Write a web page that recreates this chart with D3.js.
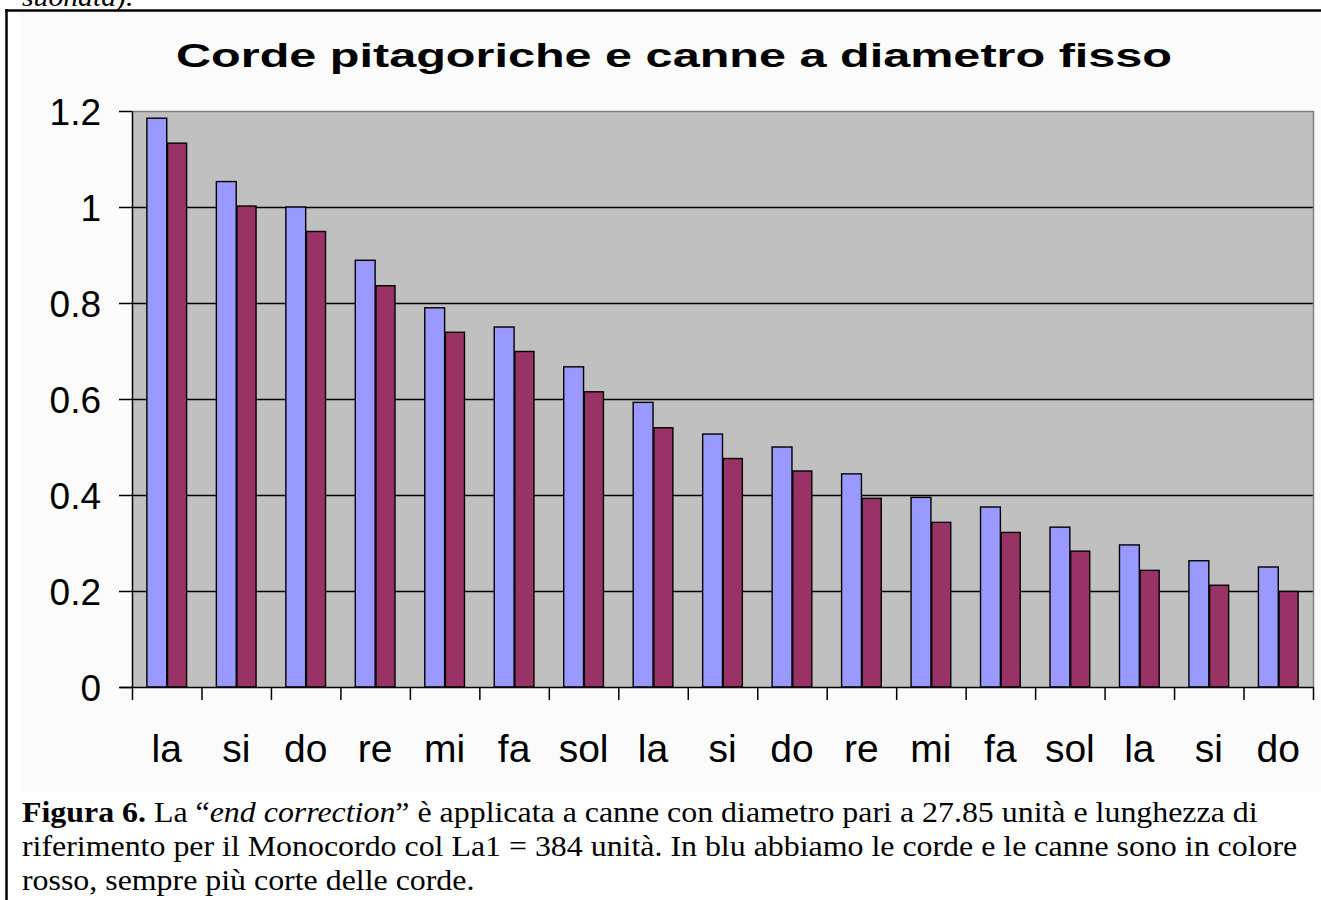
<!DOCTYPE html>
<html>
<head>
<meta charset="utf-8">
<script src="https://cdn.jsdelivr.net/npm/d3@7"></script>
<style>
  html, body { margin: 0; padding: 0; background: #ffffff; }
  svg { display: block; }
</style>
</head>
<body>
<svg id="chart" width="1321" height="900"></svg>
<script>
// ---- data ----
const notes = ["la","si","do","re","mi","fa","sol","la","si","do","re","mi","fa","sol","la","si","do"];
const corde = [1.185, 1.053, 1.000, 0.889, 0.790, 0.750, 0.667, 0.593, 0.527, 0.500, 0.444, 0.395, 0.375, 0.333, 0.296, 0.263, 0.250];
const canne = [1.133, 1.002, 0.949, 0.836, 0.739, 0.699, 0.615, 0.540, 0.476, 0.450, 0.393, 0.343, 0.322, 0.283, 0.243, 0.212, 0.199];
const seriesNames = ["corde", "canne"];
const yTicks = [0, 0.2, 0.4, 0.6, 0.8, 1.0, 1.2];
const yTickLabels = ["0", "0.2", "0.4", "0.6", "0.8", "1", "1.2"];
const titleText = "Corde pitagoriche e canne a diametro fisso";

// ---- layout ----
const svg = d3.select("#chart");
const L = 132, R = 1313, T = 111, B = 687;
const colors = { corde: "#9999FF", canne: "#993366" };

// frame & chart area
svg.append("rect").attr("x", 20).attr("y", 12).attr("width", 1301).attr("height", 781).attr("fill", "#fbfbfb");
svg.append("line").attr("x1", 5).attr("x2", 1321).attr("y1", 10.5).attr("y2", 10.5).attr("stroke", "#000").attr("stroke-width", 2.5);
svg.append("line").attr("x1", 6.5).attr("x2", 6.5).attr("y1", 9).attr("y2", 900).attr("stroke", "#000").attr("stroke-width", 2.5);

// cut-off previous paragraph line
svg.append("text").attr("x", 22).attr("y", 6)
  .attr("font-family", "'Liberation Serif', 'Times New Roman', serif").attr("font-style", "italic")
  .attr("font-size", 27).attr("fill", "#000")
  .attr("transform", "translate(22,0) scale(1.1,1) translate(-22,0)")
  .text("suonata).");

// scales
const x = d3.scaleBand().domain(d3.range(notes.length)).range([L, R]).paddingInner(0).paddingOuter(0);
const xs = d3.scaleBand().domain(seriesNames).range([0, x.bandwidth()]).paddingInner(0).paddingOuter(0.75);
const xLin = d3.scaleLinear().domain([0, notes.length]).range([L, R]);
const y = d3.scaleLinear().domain([0, 1.2]).range([B, T]);

// plot background
svg.append("rect").attr("x", L).attr("y", T).attr("width", R - L).attr("height", B - T).attr("fill", "#C0C0C0");

// gridlines
const grid = svg.append("g").attr("transform", `translate(${L},0)`)
  .call(d3.axisLeft(y).tickValues(yTicks.filter(v => v > 0 && v < 1.2)).tickSize(-(R - L)).tickFormat(""));
grid.select(".domain").remove();
grid.selectAll(".tick line").attr("stroke", "#000").attr("stroke-width", 1.3);

// plot border (top/right gray)
svg.append("path").attr("d", `M${L},${T + 0.5}H${R + 0.5}V${B}`).attr("fill", "none").attr("stroke", "#808080").attr("stroke-width", 1.5);

// bars
const data = notes.map((n, i) => ({ i, values: [{ k: "corde", v: corde[i] }, { k: "canne", v: canne[i] }] }));
const groups = svg.append("g").selectAll("g").data(data).join("g")
  .attr("transform", d => `translate(${x(d.i)},0)`);
groups.selectAll("rect").data(d => d.values).join("rect")
  .attr("x", d => xs(d.k) + (d.k === "canne" ? 0.8 : 0))
  .attr("width", d => xs.bandwidth() - (d.k === "canne" ? 0.8 : 0))
  .attr("y", d => y(d.v))
  .attr("height", d => y(0) - y(d.v))
  .attr("fill", d => colors[d.k])
  .attr("stroke", "#000").attr("stroke-width", 1.4);

// y axis
const yAxis = svg.append("g").attr("transform", `translate(${L},0)`)
  .call(d3.axisLeft(y).tickValues(yTicks).tickSize(13).tickSizeOuter(0).tickPadding(18)
    .tickFormat((d, i) => yTickLabels[i]));
yAxis.select(".domain").attr("stroke", "#000").attr("stroke-width", 1.5);
yAxis.selectAll(".tick line").attr("stroke", "#000").attr("stroke-width", 1.5);
yAxis.selectAll(".tick text").attr("font-family", "'Liberation Sans', Arial, sans-serif")
  .attr("font-size", 37).attr("fill", "#000").attr("dy", "0.36em");

// x axis ticks (category boundaries)
const xAxis = svg.append("g").attr("transform", `translate(0,${B})`)
  .call(d3.axisBottom(xLin).tickValues(d3.range(notes.length + 1)).tickSize(13).tickSizeOuter(0).tickFormat(""));
xAxis.select(".domain").attr("d", `M120,0.5H${R}`).attr("stroke", "#000").attr("stroke-width", 1.5);
xAxis.selectAll(".tick line").attr("stroke", "#000").attr("stroke-width", 1.5);

// x labels
const xLab = svg.append("g").attr("transform", `translate(0,${B})`)
  .call(d3.axisBottom(x).tickSize(0).tickPadding(0).tickFormat(i => notes[i]));
xLab.select(".domain").remove();
xLab.selectAll(".tick text").attr("font-family", "'Liberation Sans', Arial, sans-serif")
  .attr("font-size", 39).attr("fill", "#000").attr("dy", 0).attr("y", 75);

// title
svg.append("text").attr("x", 674).attr("y", 67).attr("text-anchor", "middle")
  .attr("font-family", "'Liberation Sans', Arial, sans-serif").attr("font-weight", "bold")
  .attr("font-size", 34).attr("textLength", 996).attr("lengthAdjust", "spacingAndGlyphs")
  .attr("fill", "#000").text(titleText);

// caption (slightly widened like the reference scan)
const cap = svg.append("g").attr("transform", "translate(22,0) scale(1.1,1)")
  .attr("font-family", "'Liberation Serif', 'Times New Roman', serif")
  .attr("font-size", 29).attr("fill", "#000");
const l1 = cap.append("text").attr("x", 0).attr("y", 822);
l1.append("tspan").attr("font-weight", "bold").text("Figura 6.");
l1.append("tspan").text(" La \u201C");
l1.append("tspan").attr("font-style", "italic").text("end correction");
l1.append("tspan").text("\u201D è applicata a canne con diametro pari a 27.85 unità e lunghezza di");
cap.append("text").attr("x", 0).attr("y", 856)
  .text("riferimento per il Monocordo col La1 = 384 unità. In blu abbiamo le corde e le canne sono in colore");
cap.append("text").attr("x", 0).attr("y", 890).text("rosso, sempre più corte delle corde.");
</script>
</body>
</html>
